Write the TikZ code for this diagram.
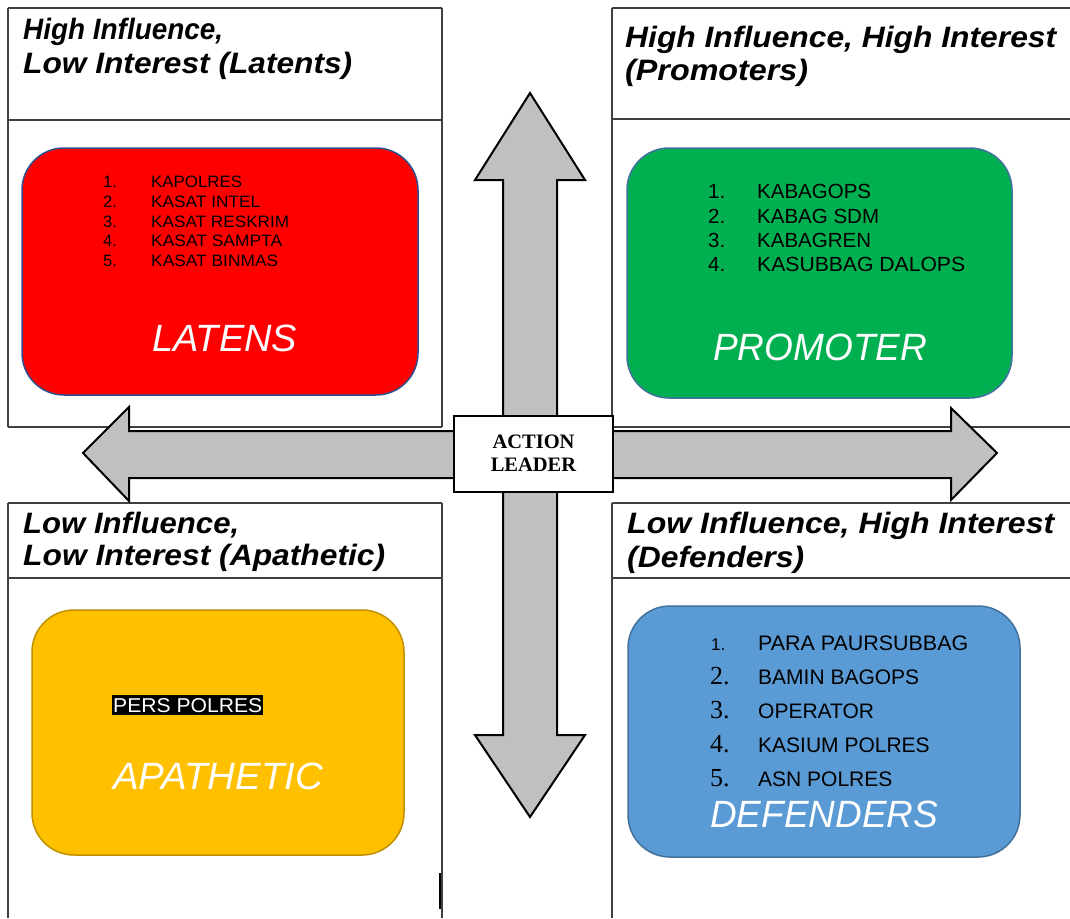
\documentclass[tikz,border=0pt]{standalone}
\usepackage{fontspec}
\setmainfont{Liberation Sans}
\newfontfamily\timesfont{Liberation Serif}
\definecolor{latred}{HTML}{FF0000}
\definecolor{promgreen}{HTML}{00B050}
\definecolor{apayellow}{HTML}{FFC000}
\definecolor{defblue}{HTML}{5B9BD5}
\definecolor{edgeblue}{HTML}{41719C}
\definecolor{edgedark}{HTML}{2F528F}
\definecolor{edgegold}{HTML}{BF9000}
\definecolor{arrowgray}{HTML}{C0C0C0}
% set a line to a given width, keeping its height
\newcommand\fitwidth[2]{\resizebox{#1pt}{\height}{#2}}
\begin{document}
\begin{tikzpicture}[x=1pt,y=-1pt,
  gridline/.style={draw=black!75, line width=1.2pt},
  bigarrow/.style={draw=black, fill=arrowgray, line width=2pt, line join=miter},
  quadbox/.style={draw, line width=1.5pt, rounded corners=42pt, inner sep=0pt},
  header/.style={anchor=base west, inner sep=0pt, font=\fontsize{29.5}{33}\selectfont\bfseries\itshape},
  biglabel/.style={anchor=base west, inner sep=0pt, text=white, font=\fontsize{38}{40}\selectfont\itshape},
  item/.style={anchor=base west, inner sep=0pt}
]
\useasboundingbox (0,0) rectangle (1070,918);

% table frames of the four quadrants
\draw[gridline] (8,8) -- (442,8) (8,8) -- (8,427) (442,8) -- (442,427)
  (8,120) -- (442,120) (8,427) -- (442,427);
\draw[gridline] (612,8) -- (1070,8) (612,8) -- (612,427)
  (612,119) -- (1070,119) (612,427) -- (1070,427);
\draw[gridline] (8,503) -- (442,503) (8,578) -- (442,578)
  (8,503) -- (8,918) (442,503) -- (442,918);
\draw[gridline] (612,503) -- (1070,503) (612,578) -- (1070,578)
  (612,503) -- (612,918);
\draw[line width=2.5pt] (440,873) -- (440,909);

% crossing double arrows
\draw[bigarrow] (530,93) -- (585,180) -- (557,180) -- (557,735) -- (585,735)
  -- (530,817) -- (475,735) -- (503,735) -- (503,180) -- (475,180) -- cycle;
\draw[bigarrow] (83,453) -- (129,407) -- (129,431) -- (951,431) -- (951,408)
  -- (997,453) -- (951,500) -- (951,478) -- (129,478) -- (129,501) -- cycle;

% centre box
\node[draw=black, fill=white, line width=1.5pt, minimum width=159pt, minimum height=76pt,
  align=center, font=\timesfont\bfseries\fontsize{20.5}{23}\selectfont] (leader) at (533.5,454)
  {\raisebox{2pt}{ACTION}\\\raisebox{2pt}{LEADER}};

% quadrant headers
\node[header] (h1a) at (23,39) {\fitwidth{200}{High Influence,}};
\node[header] (h1b) at (23,73) {\fitwidth{329}{Low Interest (Latents)}};
\node[header] (h2a) at (625,47) {\fitwidth{431}{High Influence, High Interest}};
\node[header] (h2b) at (625,80) {\fitwidth{183}{(Promoters)}};
\node[header] (h3a) at (23,533) {\fitwidth{216}{Low Influence,}};
\node[header] (h3b) at (23,565) {\fitwidth{362}{Low Interest (Apathetic)}};
\node[header] (h4a) at (627,533) {\fitwidth{427}{Low Influence, High Interest}};
\node[header] (h4b) at (627,567) {\fitwidth{177}{(Defenders)}};

% coloured group boxes
\node[quadbox, draw=edgedark, fill=latred, minimum width=396pt, minimum height=247pt] (latbox) at (220,271.5) {};
\node[quadbox, draw=edgeblue, fill=promgreen, minimum width=385pt, minimum height=250pt] (prombox) at (819.5,273) {};
\node[quadbox, draw=edgegold, fill=apayellow, minimum width=372pt, minimum height=245pt] (apabox) at (218,732.5) {};
\node[quadbox, draw=edgeblue, fill=defblue, minimum width=392pt, minimum height=251pt] (defbox) at (824,731.5) {};

% latents list
\begin{scope}[every node/.style={item, font=\fontsize{16.5}{18}\selectfont}]
\node (l1n) at (103,187.5) {1.}; \node (l1) at (151,187.5) {\fitwidth{91}{KAPOLRES}};
\node (l2n) at (103,207.3) {2.}; \node (l2) at (151,207.3) {\fitwidth{109}{KASAT INTEL}};
\node (l3n) at (103,227)   {3.}; \node (l3) at (151,227)   {\fitwidth{138}{KASAT RESKRIM}};
\node (l4n) at (103,246.8) {4.}; \node (l4) at (151,246.8) {\fitwidth{131}{KASAT SAMPTA}};
\node (l5n) at (103,266.5) {5.}; \node (l5) at (151,266.5) {\fitwidth{127}{KASAT BINMAS}};
\end{scope}
\node[biglabel] (latlbl) at (152,351) {\fitwidth{145}{LATENS}};

% promoters list
\begin{scope}[every node/.style={item, font=\fontsize{20.5}{22}\selectfont}]
\node (p1n) at (708,198) {1.}; \node (p1) at (757,198) {KABAGOPS};
\node (p2n) at (708,223) {2.}; \node (p2) at (757,223) {KABAG SDM};
\node (p3n) at (708,247) {3.}; \node (p3) at (757,247) {KABAGREN};
\node (p4n) at (708,271) {4.}; \node (p4) at (757,271) {\fitwidth{208}{KASUBBAG DALOPS}};
\end{scope}
\node[biglabel] (promlbl) at (713,360) {\fitwidth{214}{PROMOTER}};

% apathetic
\node[item, fill=black, text=white, inner xsep=1pt, inner ysep=3pt, font=\fontsize{20}{22}\selectfont] (pers) at (112,712) {\fitwidth{149}{PERS POLRES}};
\node[biglabel] (apalbl) at (113,789) {\fitwidth{210}{APATHETIC}};

% defenders list
\begin{scope}[every node/.style={item, font=\fontsize{21}{22}\selectfont}]
\node[font=\fontsize{17}{20}\selectfont] (d1n) at (711,650) {1.}; \node (d1) at (758,650) {\fitwidth{210}{PARA PAURSUBBAG}};
\node[font=\timesfont\fontsize{26}{28}\selectfont] (d2n) at (710,684) {2.}; \node (d2) at (758,684) {BAMIN BAGOPS};
\node[font=\timesfont\fontsize{26}{28}\selectfont] (d3n) at (710,718) {3.}; \node (d3) at (758,718) {OPERATOR};
\node[font=\timesfont\fontsize{26}{28}\selectfont] (d4n) at (710,752) {4.}; \node (d4) at (758,752) {KASIUM POLRES};
\node[font=\timesfont\fontsize{26}{28}\selectfont] (d5n) at (710,786) {5.}; \node (d5) at (758,786) {ASN POLRES};
\end{scope}
\node[biglabel] (deflbl) at (710,827) {\fitwidth{228}{DEFENDERS}};
\end{tikzpicture}
\end{document}
